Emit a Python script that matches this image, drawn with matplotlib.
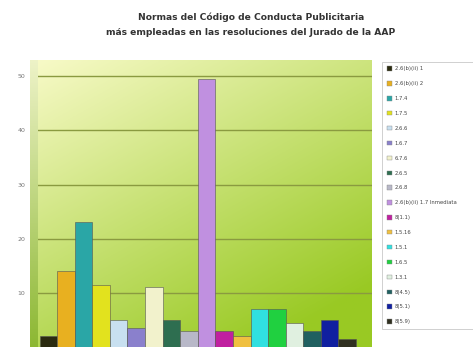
import numpy as np
import matplotlib
matplotlib.use("Agg")
import matplotlib.pyplot as plt
from matplotlib.patches import Patch

# series (one bar per norm)
normas = ["2.6(b)(ii) 1", "2.6(b)(ii) 2", "1.7.4", "1.7.5", "2.6.6", "1.6.7",
          "6.7.6", "2.6.5", "2.6.8", "2.6(b)(ii) 1.7 Inmediata", "8(1.1)",
          "1.5.16", "1.5.1", "1.6.5", "1.3.1", "8(4.5)", "8(5.1)", "8(5.9)"]
valores = [2, 14, 23, 11.5, 5, 3.5, 11, 5, 3, 49.5, 3, 2, 7, 7, 4.5, 3, 5, 1.5]
colores = ["#2b2b10", "#e8b020", "#2aa6a6", "#e2e21e", "#c8e0f0", "#8a80cc",
           "#f2f2cc", "#2e6e50", "#b8b8c8", "#c090e0", "#c020a0", "#f0c040",
           "#30e0e0", "#20d040", "#e0f0e0", "#206060", "#1020a0", "#303020"]
yticks = [10, 20, 30, 40, 50]

fig = plt.figure(figsize=(4.73, 3.47), dpi=100)
fig.patch.set_facecolor("white")

ax = fig.add_axes([0.08, 0.0, 0.706, 0.827])
ax.set_xlim(-0.6, 18.4)
ax.set_ylim(0, 53)

# green gradient back wall: pale at top-left, strong green at bottom-right
gx = np.linspace(0, 1, 200)
gy = np.linspace(0, 1, 200)
X, Y = np.meshgrid(gx, gy)
t = np.clip(0.45 * X + 0.7 * Y, 0, 1)
c0 = np.array([0.97, 0.98, 0.78])
c1 = np.array([0.60, 0.79, 0.14])
img = c0 + (c1 - c0) * t[..., None]
ax.imshow(img, extent=[-0.6, 18.4, 0, 53], aspect="auto", origin="upper", zorder=0)

for yt in yticks:
    ax.axhline(yt, color="#8a9a40", lw=1.0, zorder=1)

x = np.arange(len(valores))
for i in range(len(valores)):
    ax.bar(x[i], valores[i], width=1.0, color=colores[i],
           edgecolor="#555555", linewidth=0.4, zorder=2, label=normas[i])

ax.set_xticks([])
ax.set_yticks(yticks)
ax.set_yticklabels([str(v) for v in yticks], fontsize=4.5, color="#777777")
ax.tick_params(axis="y", length=0, pad=9)
for s in ax.spines.values():
    s.set_visible(False)

# side wall strip
side = fig.add_axes([0.063, 0.0, 0.03, 0.827])
sg = np.linspace(0, 1, 100)[:, None] * np.ones((1, 10))
top_c = np.array([0.93, 0.95, 0.78])
bot_c = np.array([0.55, 0.72, 0.20])
side_img = top_c + (bot_c - top_c) * sg[..., None]
side.imshow(side_img, aspect="auto", origin="upper")
side.axis("off")
ax.set_zorder(side.get_zorder() + 1)
ax.patch.set_alpha(0)

fig.text(0.53, 0.951, "Normas del Código de Conducta Publicitaria",
         ha="center", va="center", fontsize=6.6, fontweight="bold", color="#333333")
fig.text(0.53, 0.905, "más empleadas en las resoluciones del Jurado de la AAP",
         ha="center", va="center", fontsize=6.6, fontweight="bold", color="#333333")

handles = [Patch(facecolor=colores[i], edgecolor="#888888", linewidth=0.3)
           for i in range(len(normas))]
leg = fig.legend(handles, normas, loc="upper left",
                 bbox_to_anchor=(0.803, 0.035, 0.25, 0.795), mode="expand",
                 fontsize=3.8, frameon=True, handlelength=0.9, handleheight=0.9,
                 labelspacing=1.87, borderpad=0.9, handletextpad=0.5,
                 fancybox=False)
leg.get_frame().set_edgecolor("#bbbbbb")
leg.get_frame().set_linewidth(0.6)
for txt in leg.get_texts():
    txt.set_color("#444444")

fig.savefig("out.png", dpi=100)
